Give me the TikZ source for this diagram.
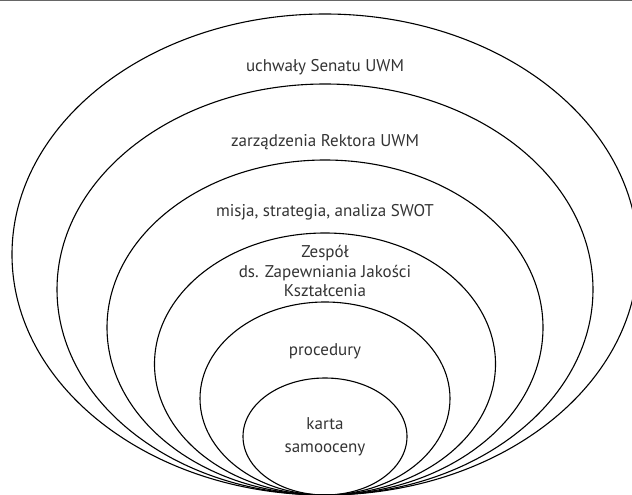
\documentclass[tikz,border=0pt]{standalone}
\usepackage{fontspec}
\setmainfont{PT Sans}
\tikzstyle{ring}=[draw=black, line width=1.1pt]
\tikzstyle{ringtext}=[font=\fontsize{17}{19.5}\selectfont, align=center, text=black!80, inner sep=0pt]
\tikzstyle{topline}=[draw=black!60, line width=1.6pt]

\begin{document}
\begin{tikzpicture}[x=1pt, y=-1pt]
	\useasboundingbox (0,0) rectangle (632,495);
	\clip (0,0) rectangle (632,495);
	\draw[topline] (0,0.5) -- (632,0.5);
	\begin{scope}
		% nested rings, all touching the bottom edge
		\draw[ring] (325,254.5) ellipse [x radius=313pt, y radius=240.5pt];
		\draw[ring] (325,289.5) ellipse [x radius=268pt, y radius=205.5pt];
		\draw[ring] (325,327.5) ellipse [x radius=218pt, y radius=167.5pt];
		\draw[ring] (325,364) ellipse [x radius=170.5pt, y radius=131pt];
		\draw[ring] (325,398.5) ellipse [x radius=125pt, y radius=96.5pt];
		\draw[ring] (325,436.5) ellipse [x radius=82pt, y radius=58.5pt];
	\end{scope}
	\begin{scope}
		\node[ringtext] (senat) at (325,67) {uchwały Senatu UWM};
		\node[ringtext] (rektor) at (325,142) {zarządzenia Rektora UWM};
		\node[ringtext] (misja) at (325,212) {misja, strategia, analiza SWOT};
		\node[ringtext] (zespol) at (325,271) {Zespół\\ds. Zapewniania Jakości\\Kształcenia};
		\node[ringtext] (proc) at (325,351) {procedury};
		\node[ringtext, font=\fontsize{17}{23}\selectfont] (karta) at (325,437) {karta\\samooceny};
	\end{scope}
\end{tikzpicture}
\end{document}
